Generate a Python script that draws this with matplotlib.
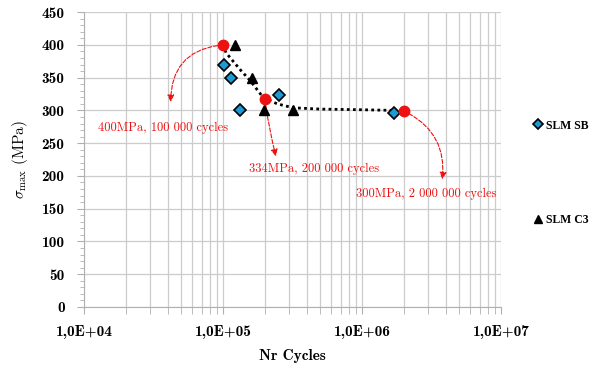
import numpy as np
import matplotlib
matplotlib.use("Agg")
import matplotlib.pyplot as plt
from matplotlib.ticker import LogLocator, MultipleLocator, FuncFormatter

plt.rcParams["mathtext.fontset"] = "cm"

# Données
sb_cycles = [1.02e5, 1.14e5, 1.32e5, 2.53e5, 1.71e6]
sb_stress = [369, 350, 300, 323, 296]

c3_cycles = [1.21e5, 1.62e5, 1.97e5, 3.17e5]
c3_stress = [400, 350, 300, 300]

# Points rouges
red_cycles = [1.0e5, 2.0e5, 2.0e6]
red_stress = [400, 317, 299]

# Courbe de tendance pointillée
trend_cycles = [1.0e5, 1.05e5, 1.33e5, 1.56e5, 1.94e5, 2.45e5, 3.19e5, 5.0e5, 1.0e6, 1.7e6]
trend_stress = [401, 388, 362, 346, 320, 310, 304, 302, 301, 300]

# Annotations : texte, position de la flèche, position du texte
ann_labels = ["400MPa, 100 000 cycles", "334MPa, 200 000 cycles", "300MPa, 2 000 000 cycles"]
ann_heads = [(4.2e4, 313), (2.4e5, 230), (3.78e6, 195)]
ann_text_pos = [(3.7e4, 273), (4.52e5, 211), (2.91e6, 173)]
ann_rad = [0.45, 0.03, -0.35]

fig = plt.figure(figsize=(5.93, 3.67), dpi=100)
ax = fig.add_axes([0.1417, 0.1635, 0.7033, 0.8035])

ax.set_xscale("log")
ax.set_xlim(1e4, 1e7)
ax.set_ylim(0, 450)

grid_col = "#cccccc"
ax.xaxis.set_major_locator(LogLocator(base=10))
ax.xaxis.set_minor_locator(LogLocator(base=10, subs=np.arange(2, 10)))
ax.yaxis.set_major_locator(MultipleLocator(50))
ax.yaxis.set_minor_locator(MultipleLocator(10))
ax.grid(True, which="major", axis="both", color=grid_col, lw=0.9)
ax.grid(True, which="minor", axis="x", color=grid_col, lw=0.9)
ax.set_axisbelow(True)

for s in ["top", "right"]:
    ax.spines[s].set_visible(False)
for s in ["left", "bottom"]:
    ax.spines[s].set_color("#b0b0b0")
ax.tick_params(which="both", color="#b0b0b0", direction="out")
ax.tick_params(which="major", length=5)
ax.tick_params(axis="x", which="minor", length=5)
ax.tick_params(axis="y", which="minor", length=3)
ax.tick_params(axis="x", pad=8)
ax.tick_params(axis="y", pad=9)

fmt_x = FuncFormatter(lambda v, p: "1,0E+%02d" % int(round(np.log10(v))))
ax.xaxis.set_major_formatter(fmt_x)
for lab in ax.get_xticklabels() + ax.get_yticklabels():
    lab.set_family("cmb10")
    lab.set_fontsize(11)

ax.set_xlabel("Nr Cycles", family="cmb10", fontsize=11, labelpad=7)
ax.set_ylabel(r"$\mathrm{\sigma}_{\mathrm{max}}$ (MPa)", family="cmr10", fontsize=11,
              labelpad=8)

ax.plot(trend_cycles, trend_stress, color="black", ls=(0, (1, 1.2)), lw=2.0, zorder=3)
ax.plot(sb_cycles, sb_stress, ls="none", marker="D", ms=6.5, mfc="#1b9ad6",
        mec="black", mew=1.2, label="SLM SB", zorder=4)
ax.plot(c3_cycles, c3_stress, ls="none", marker="^", ms=7.5, color="black",
        label="SLM C3", zorder=4)
ax.plot(red_cycles, red_stress, ls="none", marker="o", ms=7.5, color="#ee1111",
        zorder=5)

for i in range(len(ann_labels)):
    ax.annotate("", xy=ann_heads[i], xytext=(red_cycles[i], red_stress[i]),
                arrowprops=dict(arrowstyle="-|>,head_length=0.4,head_width=0.2",
                                color="#ee1111", ls="--", lw=0.8,
                                connectionstyle="arc3,rad=%f" % ann_rad[i],
                                shrinkA=4, shrinkB=0))
    ax.text(ann_text_pos[i][0], ann_text_pos[i][1], ann_labels[i], color="#ee1111",
            family="cmr10", fontsize=9, ha="center", va="center")

leg = ax.legend(loc="center left", bbox_to_anchor=(0.903, 0.529),
                bbox_transform=fig.transFigure, frameon=False, markerscale=0.8,
                labelspacing=7.0, handlelength=0.5, handletextpad=0.35,
                borderaxespad=0, borderpad=0,
                prop={"family": "Liberation Serif", "weight": "bold", "size": 8.5})

fig.savefig("out.png", dpi=100)
